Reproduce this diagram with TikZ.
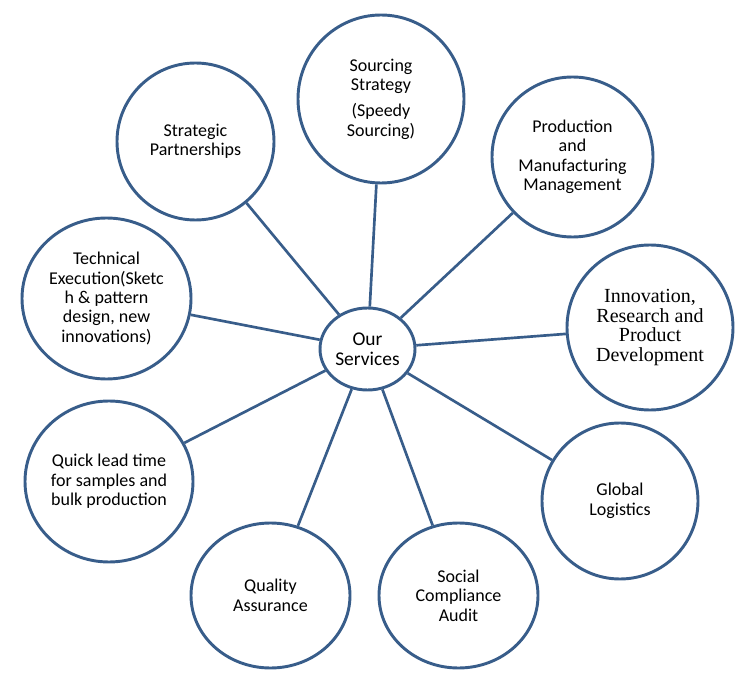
\documentclass[tikz,border=0pt]{standalone}
\usepackage{fontspec}
\setmainfont{Carlito}
\newfontfamily\timesfont{Liberation Serif}
\usetikzlibrary{shapes.geometric}
\definecolor{rim}{RGB}{56,93,138}
\tikzset{
  every picture/.style={line width=2.2pt},
  bubble/.style={ellipse,draw=rim,fill=white,inner sep=0pt,align=center,
    font=\fontsize{13.5pt}{14.6pt}\selectfont},
  hub/.style={bubble,font=\fontsize{14.6pt}{15pt}\selectfont},
  spoke/.style={draw=rim,line width=2pt},
}
\begin{document}
\begin{tikzpicture}[x=0.75pt,y=-0.75pt]
  \useasboundingbox (0,0) rectangle (750,677);
  % centre
  \node[hub,minimum width=71.25pt,minimum height=61.5pt] (srv) at (367.5,349) {Our\\Services};
  % ring, clockwise from the top
  \node[bubble,minimum width=124.5pt,minimum height=126pt] (src) at (381,99)
    {Sourcing\\Strategy\\[5pt](Speedy\\Sourcing)};
  \node[bubble,minimum width=120.75pt,minimum height=120pt] (prod) at (572.5,157)
    {Production\\and\\Manufacturing\\Management};
  \node[bubble,minimum width=124.5pt,minimum height=123.75pt,
    font=\timesfont\fontsize{15pt}{14.7pt}\selectfont] (innov) at (650,327.5)
    {Innovation,\\Research and\\Product\\Development};
  \node[bubble,minimum width=117pt,minimum height=117pt] (logi) at (620,501)
    {Global\\Logistics};
  \node[bubble,minimum width=119.25pt,minimum height=108.75pt] (audit) at (458.5,595.5)
    {Social\\Compliance\\Audit};
  \node[bubble,minimum width=119.25pt,minimum height=108.75pt] (qual) at (270.5,595.5)
    {Quality\\Assurance};
  \node[bubble,minimum width=126pt,minimum height=120.75pt] (lead) at (109,481.5)
    {Quick lead time\\for samples and\\bulk production};
  \node[bubble,minimum width=126.75pt,minimum height=120.75pt] (tech) at (106.5,298.5)
    {Technical\\Execution(Sketc\\h \& pattern\\design, new\\innovations)};
  \node[bubble,minimum width=117.75pt,minimum height=117.75pt] (part) at (195.5,141.5)
    {Strategic\\Partnerships};
  % spokes
  \foreach \n in {src,prod,innov,logi,audit,qual,lead,tech,part}
    \draw[spoke] (srv) -- (\n);
\end{tikzpicture}
\end{document}
